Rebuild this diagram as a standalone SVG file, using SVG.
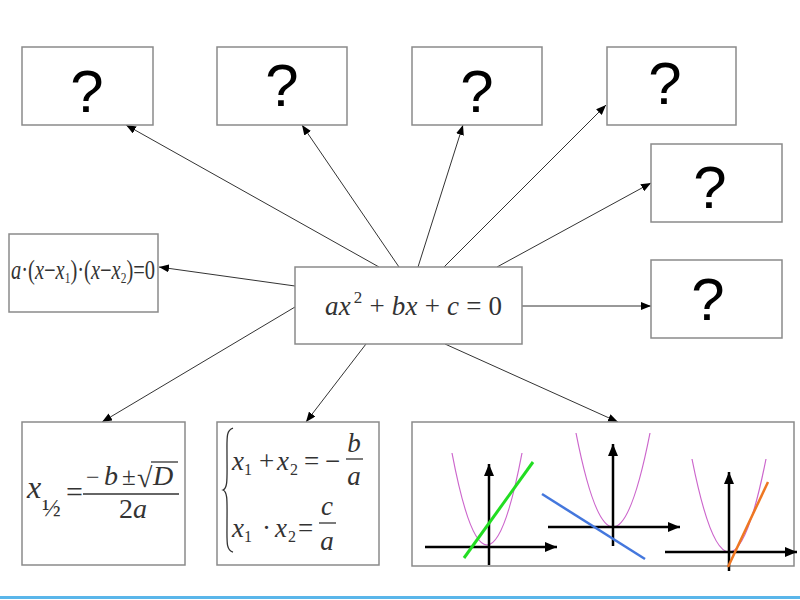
<svg xmlns="http://www.w3.org/2000/svg" width="800" height="600" viewBox="0 0 800 600">
<style>
.box{fill:#fff;stroke:#8a8a8a;stroke-width:1.5}
.q{font-family:"Liberation Sans",Arial,sans-serif;font-size:60px;fill:#000;text-anchor:middle}
.m{font-family:"Liberation Serif","Times New Roman",serif;fill:#333}
.i{font-style:italic}
.con line{stroke:#333;stroke-width:1}
.ax{stroke:#000;stroke-width:2.5;fill:none}
.par{stroke:#cc66cc;stroke-width:1.2;fill:none}
</style>
<defs>
<marker id="arr" markerUnits="userSpaceOnUse" markerWidth="10" markerHeight="8" refX="10" refY="4" orient="auto">
<path d="M0,0 L10,4 L0,8 z" fill="#000"/>
</marker>
<marker id="axarr" markerUnits="userSpaceOnUse" markerWidth="12" markerHeight="10" refX="12" refY="5" orient="auto">
<path d="M0,0 L12,5 L0,10 z" fill="#000"/>
</marker>
</defs>
<rect width="800" height="600" fill="#fff"/>

<g class="con">
<line x1="379" y1="267" x2="126" y2="125" marker-end="url(#arr)"/>
<line x1="399" y1="267" x2="302" y2="125" marker-end="url(#arr)"/>
<line x1="418" y1="267" x2="463" y2="125" marker-end="url(#arr)"/>
<line x1="444" y1="267" x2="606" y2="105" marker-end="url(#arr)"/>
<line x1="497" y1="267" x2="651" y2="183" marker-end="url(#arr)"/>
<line x1="522" y1="306" x2="651" y2="306" marker-end="url(#arr)"/>
<line x1="295" y1="286" x2="159" y2="267" marker-end="url(#arr)"/>
<line x1="295" y1="307" x2="102" y2="422" marker-end="url(#arr)"/>
<line x1="366" y1="344" x2="306" y2="422" marker-end="url(#arr)"/>
<line x1="445" y1="344" x2="618" y2="422" marker-end="url(#arr)"/>
</g>

<g id="q1"><rect class="box" x="22" y="47" width="131" height="78"/><text class="q" x="87" y="112">?</text></g>
<g id="q2"><rect class="box" x="217" y="47" width="130" height="78"/><text class="q" x="282" y="106">?</text></g>
<g id="q3"><rect class="box" x="412" y="47" width="130" height="78"/><text class="q" x="477" y="112">?</text></g>
<g id="q4"><rect class="box" x="607" y="47" width="129" height="78"/><text class="q" x="665" y="104">?</text></g>
<g id="q5"><rect class="box" x="651" y="144" width="131" height="78"/><text class="q" x="710" y="208">?</text></g>
<g id="q6"><rect class="box" x="651" y="260" width="131" height="78"/><text class="q" x="708" y="320">?</text></g>

<g id="center">
<rect class="box" x="295" y="267" width="227" height="77"/>
<text class="m" x="325" y="315" font-size="27" textLength="177"><tspan class="i">ax</tspan><tspan font-size="17" dy="-12" dx="3">2</tspan><tspan dy="12"> + </tspan><tspan class="i">bx</tspan><tspan> + </tspan><tspan class="i">c</tspan><tspan> = 0</tspan></text>
</g>

<g id="factored">
<rect class="box" x="9" y="234" width="149" height="78"/>
<text class="m" transform="translate(11,279) scale(0.76,1)" x="0" y="0" font-size="27"><tspan class="i">a</tspan>·(<tspan class="i">x</tspan>−<tspan class="i">x</tspan><tspan font-size="15" dy="4">1</tspan><tspan dy="-4">)·(</tspan><tspan class="i">x</tspan>−<tspan class="i">x</tspan><tspan font-size="15" dy="4">2</tspan><tspan dy="-4">)=0</tspan></text>
</g>

<g id="roots">
<rect class="box" x="22" y="422" width="163" height="143"/>
<text class="m i" x="27" y="498" font-size="32">x</text>
<text class="m" x="42" y="516" font-size="25">½</text>
<text class="m" x="66" y="502" font-size="30">=</text>
<text class="m" x="86" y="485" font-size="24">−</text>
<text class="m i" x="104" y="485" font-size="28">b</text>
<text class="m" x="122" y="485" font-size="25">±</text>
<text class="m" x="137" y="487" font-size="28">√</text>
<line x1="151" y1="462" x2="178" y2="462" stroke="#333" stroke-width="1.3"/>
<text class="m i" x="153" y="485" font-size="28">D</text>
<line x1="83" y1="494" x2="179" y2="494" stroke="#333" stroke-width="1.3"/>
<text class="m" x="133" y="518" font-size="28" text-anchor="middle">2<tspan class="i">a</tspan></text>
</g>

<g id="vieta">
<rect class="box" x="217" y="422" width="162" height="143"/>
<path d="M233,428 C226,430 227,438 227,455 C227,478 228,488 223,490 C228,492 227,502 227,525 C227,542 226,550 233,552" fill="none" stroke="#333" stroke-width="1.3"/>
<text class="m" y="470" font-size="27"><tspan class="i" x="232">x</tspan><tspan x="244" dy="5" font-size="16">1</tspan><tspan x="259" dy="-5">+</tspan><tspan class="i" x="277">x</tspan><tspan x="290" dy="5" font-size="16">2</tspan><tspan x="304" dy="-5">=</tspan><tspan x="325">−</tspan></text>
<text class="m i" x="354" y="452" font-size="27" text-anchor="middle">b</text>
<line x1="346" y1="459" x2="363" y2="459" stroke="#333" stroke-width="1.3"/>
<text class="m i" x="354" y="485" font-size="27" text-anchor="middle">a</text>
<text class="m" y="537" font-size="27"><tspan class="i" x="232">x</tspan><tspan x="244" dy="5" font-size="16">1</tspan><tspan x="262" dy="-5">·</tspan><tspan class="i" x="275">x</tspan><tspan x="288" dy="5" font-size="16">2</tspan><tspan x="298" dy="-5">=</tspan></text>
<text class="m i" x="327" y="515" font-size="27" text-anchor="middle">c</text>
<line x1="319" y1="523" x2="336" y2="523" stroke="#333" stroke-width="1.3"/>
<text class="m i" x="327" y="550" font-size="27" text-anchor="middle">a</text>
</g>

<g id="graphs">
<rect class="box" x="412" y="422" width="382" height="144"/>
<path class="par" d="M452,453 Q487,637 522,453"/>
<line class="ax" x1="425" y1="547" x2="557" y2="547" marker-end="url(#axarr)"/>
<line class="ax" x1="489" y1="565" x2="489" y2="464" marker-end="url(#axarr)"/>
<line x1="464" y1="558" x2="533" y2="462" stroke="#22dd22" stroke-width="3"/>

<path class="par" d="M576,433 Q613,621 650,433"/>
<line class="ax" x1="548" y1="527" x2="680" y2="527" marker-end="url(#axarr)"/>
<line class="ax" x1="613" y1="546" x2="613" y2="444" marker-end="url(#axarr)"/>
<line x1="542" y1="494" x2="645" y2="559" stroke="#4477dd" stroke-width="2.5"/>

<path class="par" d="M692,459 Q729,645 766,459"/>
<line class="ax" x1="665" y1="552" x2="797" y2="552" marker-end="url(#axarr)"/>
<line class="ax" x1="729" y1="571" x2="729" y2="472" marker-end="url(#axarr)"/>
<line x1="728" y1="567" x2="768" y2="482" stroke="#ee7722" stroke-width="2.5"/>
</g>

<rect x="0" y="596" width="800" height="3" fill="#5ab6ea"/>
</svg>
